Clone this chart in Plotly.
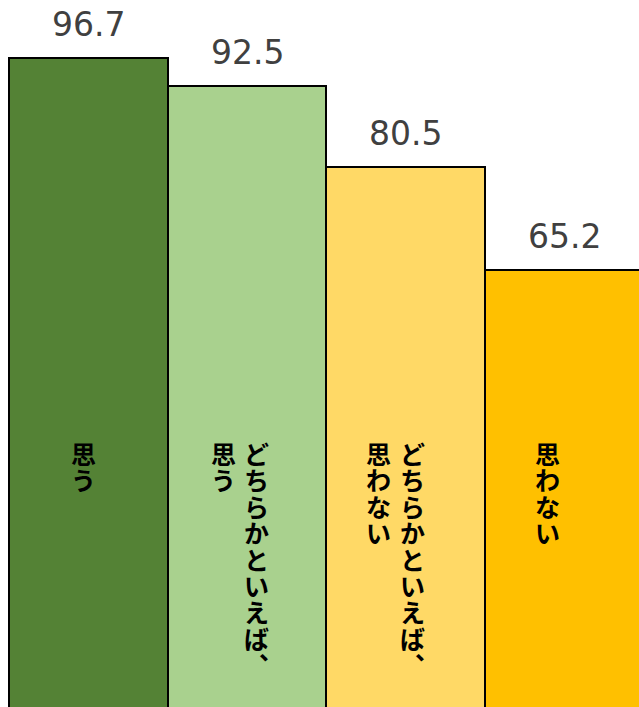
"""vertical-label bar chart"""
import plotly.graph_objects as go

CATEGORIES = ['思う', 'どちらかといえば、思う', 'どちらかといえば、思わない', '思わない']
VALUES = [96.7, 92.5, 80.5, 65.2]
VALUE_LABELS = ['96.7', '92.5', '80.5', '65.2']
# vertical label columns, right column first (Japanese vertical writing)
LABEL_COLUMNS = [['思う'], ['どちらかといえば︑', '思う'], ['どちらかといえば︑', '思わない'], ['思わない']]

COLORS = ['#548235', '#A9D18E', '#FFD966', '#FFC000']
COLUMN_XSHIFT = [[-5], [9, -24], [7, -27], [-17]]
TEXT_TOP = 433

fig = go.Figure()
fig.add_trace(go.Bar(
    x=list(range(len(CATEGORIES))), y=VALUES,
    marker=dict(color=COLORS, line=dict(color='black', width=2)),
    hoverinfo='skip',
))

annotations = []
# value labels above bars
for i, (v, lab) in enumerate(zip(VALUES, VALUE_LABELS)):
    annotations.append(dict(
        x=i, y=v, xref='x', yref='y', text=lab, showarrow=False,
        yanchor='bottom', yshift=12,
        font=dict(family='DejaVu Sans, sans-serif', size=33, color='#404040'),
    ))

# vertical japanese text: one char per line, big glyphs on a tight line step
for i, cols in enumerate(LABEL_COLUMNS):
    for c, col in enumerate(cols):
        txt = '<br>'.join('<span style="font-size:25px"><b>%s</b></span>' % ch for ch in col)
        annotations.append(dict(
            x=i, y=1, xref='x', yref='paper', text=txt,
            showarrow=False, xanchor='center', yanchor='top', align='center',
            xshift=COLUMN_XSHIFT[i][c], yshift=-TEXT_TOP,
            font=dict(family='Noto Sans CJK JP', size=20.3, color='black'),
        ))

fig.update_layout(
    width=639, height=707,
    margin=dict(l=0, r=0, t=0, b=0),
    paper_bgcolor='white', plot_bgcolor='white',
    bargap=0, showlegend=False,
    annotations=annotations,
    xaxis=dict(range=[-0.557, 3.47], visible=False),
    yaxis=dict(range=[0.3, 105.35], visible=False),
)

fig.write_html("out.html", config={'displayModeBar': False},
               post_script="document.body.style.margin='0';document.body.style.overflow='hidden';")
